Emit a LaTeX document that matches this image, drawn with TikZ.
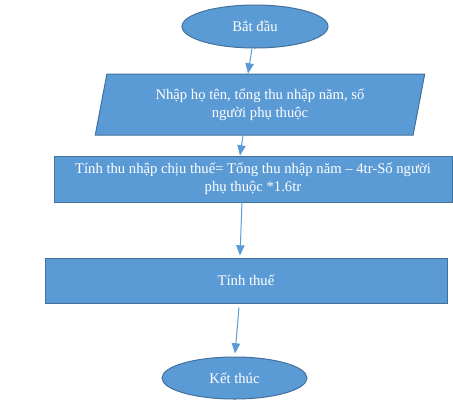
\documentclass[tikz,border=0pt]{standalone}
\usepackage{fontspec}
\setmainfont{Liberation Serif}
\usetikzlibrary{arrows,shapes.geometric}
\definecolor{boxfill}{RGB}{91,155,213}
\definecolor{boxline}{RGB}{65,113,156}

\begin{document}
\begin{tikzpicture}[x=0.75pt,y=-0.75pt,->,>=triangle 45,line width=0.75pt,
	main node/.style={fill=boxfill,draw=boxline,text=white,font=\fontsize{11}{13.5}\selectfont,align=center,inner sep=0pt},
	end node/.style={main node,ellipse,minimum width=109.5pt,minimum height=32.25pt},
	io node/.style={main node,trapezium,trapezium left angle=76,trapezium right angle=104,trapezium stretches=true,minimum width=247.5pt,minimum height=45.75pt},
	step node/.style={main node,rectangle,minimum height=34.5pt}]
	\useasboundingbox (0,0) rectangle (453,415);
	\node[end node] (1) at (255,26.5) {Bắt đầu};
	\node[io node] (2) at (260,104.5) {Nhập họ tên, tổng thu nhập năm, số\\người phụ thuộc};
	\node[step node,minimum width=298.5pt] (3) at (253,179) {Tính thu nhập chịu thuế= Tổng thu nhập năm – 4tr-Số người\\phụ thuộc *1.6tr};
	\node[step node,minimum width=301.5pt,minimum height=33.75pt] (4) at (246,280.5) {Tính thuế};
	\node[end node,minimum width=108.75pt,minimum height=31.5pt] (5) at (234.5,378) {Kết thúc};

	\path[color=boxfill]
		([xshift=-2.25pt]1.south) edge ([xshift=-9pt]2.north)
		([xshift=-12.75pt]2.south) edge ([xshift=-9.75pt]3.north)
		([xshift=-8.25pt]3.south) edge ([xshift=-4.5pt,yshift=1.5pt]4.north)
		([xshift=-5.25pt,yshift=-3pt]4.south) edge ([xshift=0.4pt,yshift=2.25pt]5.north);
\end{tikzpicture}
\end{document}
